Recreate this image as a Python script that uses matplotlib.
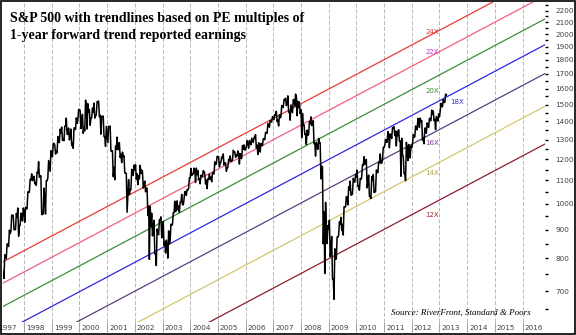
import matplotlib
matplotlib.use("Agg")
import matplotlib.pyplot as plt
from matplotlib.ticker import FixedLocator, FixedFormatter, NullFormatter
from matplotlib.transforms import offset_copy, blended_transform_factory
from matplotlib.patches import Rectangle

# S&P 500 monthly close / high / low, Jan 1997 .. Mar 2013
start_year = 1997
prior_close = 740.7
sp_close = [
    786.2, 790.8, 757.1, 801.3, 848.3, 885.1, 954.3, 899.5, 947.3, 914.6, 955.4, 970.4,
    980.3, 1049.3, 1101.8, 1111.8, 1090.8, 1133.8, 1120.7, 957.3, 1017.0, 1098.7, 1163.6, 1229.2,
    1279.6, 1238.3, 1286.4, 1335.2, 1301.8, 1372.7, 1328.7, 1320.4, 1282.7, 1362.9, 1388.9, 1469.3,
    1394.5, 1366.4, 1498.6, 1452.4, 1420.6, 1454.6, 1430.8, 1517.7, 1436.5, 1429.4, 1315.2, 1320.3,
    1366.0, 1239.9, 1160.3, 1249.5, 1255.8, 1224.4, 1211.2, 1133.6, 1040.9, 1059.8, 1139.5, 1148.1,
    1130.2, 1106.7, 1147.4, 1076.9, 1067.1, 989.8, 911.6, 916.1, 815.3, 885.8, 936.3, 879.8,
    855.7, 841.2, 848.2, 916.9, 963.6, 974.5, 990.3, 1008.0, 996.0, 1050.7, 1058.2, 1111.9,
    1131.1, 1144.9, 1126.2, 1107.3, 1120.7, 1140.8, 1101.7, 1104.2, 1114.6, 1130.2, 1173.8, 1211.9,
    1181.3, 1203.6, 1180.6, 1156.9, 1191.5, 1191.3, 1234.2, 1220.3, 1228.8, 1207.0, 1249.5, 1248.3,
    1280.1, 1280.7, 1294.9, 1310.6, 1270.1, 1270.2, 1276.7, 1303.8, 1335.9, 1377.9, 1400.6, 1418.3,
    1438.2, 1406.8, 1420.9, 1482.4, 1530.6, 1503.4, 1455.3, 1473.9, 1526.8, 1549.4, 1481.1, 1468.4,
    1378.6, 1330.6, 1322.7, 1385.6, 1400.4, 1280.0, 1267.4, 1282.8, 1166.4, 968.8, 896.2, 903.3,
    825.9, 735.1, 797.9, 872.8, 919.1, 919.3, 987.5, 1020.6, 1057.1, 1036.2, 1095.6, 1115.1,
    1073.9, 1104.5, 1169.4, 1186.7, 1089.4, 1030.7, 1101.6, 1049.3, 1141.2, 1183.3, 1180.6, 1257.6,
    1286.1, 1327.2, 1325.8, 1363.6, 1345.2, 1320.6, 1292.3, 1218.9, 1131.4, 1253.3, 1247.0, 1257.6,
    1312.4, 1365.7, 1408.5, 1397.9, 1310.3, 1362.2, 1379.3, 1406.6, 1440.7, 1412.2, 1416.2, 1426.2,
    1498.1, 1514.7, 1560.0,
]
sp_high = [
    794, 817, 814, 812, 849, 898, 955, 954, 961, 983, 963, 983,
    986, 1050, 1105, 1130, 1119, 1138, 1187, 1121, 1066, 1099, 1193, 1242,
    1280, 1272, 1316, 1356, 1368, 1373, 1419, 1363, 1357, 1363, 1420, 1470,
    1465, 1441, 1527, 1505, 1469, 1479, 1509, 1518, 1521, 1430, 1431, 1372,
    1373, 1373, 1242, 1266, 1313, 1284, 1235, 1217, 1133, 1104, 1151, 1171,
    1173, 1122, 1170, 1142, 1097, 1065, 990, 962, 935, 902, 937, 948,
    930, 862, 895, 920, 964, 1011, 1012, 1008, 1039, 1051, 1060, 1112,
    1155, 1157, 1157, 1145, 1124, 1145, 1130, 1108, 1129, 1136, 1187, 1214,
    1212, 1211, 1226, 1182, 1199, 1216, 1244, 1236, 1241, 1227, 1269, 1272,
    1294, 1295, 1307, 1312, 1326, 1283, 1280, 1304, 1339, 1389, 1406, 1428,
    1441, 1459, 1438, 1494, 1531, 1539, 1554, 1498, 1531, 1565, 1520, 1516,
    1447, 1381, 1351, 1398, 1426, 1404, 1285, 1306, 1283, 1162, 1006, 915,
    935, 875, 832, 873, 929, 946, 988, 1030, 1072, 1097, 1110, 1128,
    1147, 1109, 1174, 1212, 1199, 1124, 1117, 1127, 1148, 1185, 1226, 1259,
    1300, 1343, 1330, 1364, 1370, 1345, 1353, 1307, 1216, 1285, 1274, 1266,
    1326, 1374, 1417, 1419, 1405, 1362, 1391, 1418, 1466, 1461, 1428, 1444,
    1507, 1530, 1565,
]
sp_low = [
    744, 773, 757, 737, 799, 840, 892, 899, 900, 876, 916, 932,
    927, 980, 1048, 1099, 1085, 1078, 1114, 957, 959, 959, 1111, 1142,
    1212, 1225, 1232, 1284, 1295, 1294, 1327, 1298, 1268, 1254, 1354, 1405,
    1360, 1333, 1347, 1357, 1378, 1421, 1419, 1438, 1427, 1329, 1315, 1264,
    1284, 1240, 1117, 1103, 1247, 1208, 1183, 1134, 966, 1038, 1059, 1123,
    1106, 1081, 1131, 1066, 1050, 953, 797, 877, 815, 777, 881, 870,
    844, 818, 801, 862, 917, 969, 976, 966, 996, 1018, 1035, 1065,
    1122, 1129, 1091, 1104, 1085, 1117, 1084, 1064, 1105, 1094, 1130, 1177,
    1163, 1185, 1171, 1142, 1159, 1189, 1195, 1209, 1215, 1176, 1203, 1245,
    1262, 1255, 1272, 1284, 1256, 1223, 1235, 1268, 1299, 1334, 1367, 1396,
    1410, 1399, 1374, 1426, 1482, 1493, 1455, 1407, 1451, 1490, 1433, 1445,
    1310, 1327, 1274, 1328, 1376, 1278, 1215, 1249, 1107, 849, 752, 850,
    806, 735, 677, 798, 879, 896, 880, 987, 995, 1036, 1042, 1092,
    1073, 1057, 1115, 1175, 1067, 1030, 1022, 1047, 1050, 1135, 1179, 1194,
    1270, 1285, 1257, 1306, 1321, 1266, 1292, 1119, 1131, 1099, 1193, 1206,
    1277, 1314, 1352, 1366, 1295, 1278, 1334, 1366, 1404, 1404, 1354, 1402,
    1457, 1486, 1512,
]

# Trend forward earnings (per share) at the two ends of the trendlines
trend_years = [1997, 2017]
trend_eps = [32.4, 107.6]
pe_multiples = [12, 14, 16, 18, 20, 22, 24]
pe_colors = ["#8b1e2b", "#d6c56a", "#5b3f7d", "#2a2ae0", "#3c8c3c", "#f0607a", "#e83a3a"]
pe_label_colors = ["#a03030", "#b3a24a", "#7a3fa0", "#3a3ad8", "#3c8c3c", "#cc33cc", "#d83030"]
pe_label_years = [2012.73, 2012.73, 2012.73, 2013.63, 2012.73, 2012.73, 2012.73]
pe_label_values = [957, 1136, 1284, 1518, 1588, 1862, 2021]

y_major = [700, 800, 900, 1000, 1100, 1200, 1300, 1400, 1500, 1600, 1700, 1800,
           1900, 2000, 2100, 2200]
y_minor = [650, 750, 850, 950, 1050, 1150, 1250, 1350, 1450, 1550, 1650, 1750,
           1850, 1950, 2050, 2150, 2250]
year_labels = list(range(1997, 2017))

# Build a zig-zag path: within each month visit the extremes, then the close
times, values = [float(start_year)], [prior_close]
for i, (c, h, l) in enumerate(zip(sp_close, sp_high, sp_low)):
    t0 = start_year + i / 12.0
    first, second = (l, h) if (h - c) < (c - l) else (h, l)
    times += [t0 + 0.3 / 12, t0 + 0.65 / 12, t0 + 1.0 / 12]
    values += [first, second, c]

fig = plt.figure(figsize=(5.76, 3.35), dpi=100)
ax = fig.add_axes([3 / 576, 13 / 335, 542 / 576, 320 / 335])
ax.set_yscale("log")
ax.set_xlim(1997.24, 2016.81)
ax.set_ylim(617, 2280)

for pe, col in zip(pe_multiples, pe_colors):
    ax.plot(trend_years, [pe * e for e in trend_eps], color=col, lw=0.9, zorder=2)

ax.plot(times, values, color="black", lw=1.1, zorder=3)

for pe, col, yr, val in zip(pe_multiples, pe_label_colors, pe_label_years, pe_label_values):
    ax.text(yr, val, f"{pe}X", color=col, fontsize=5, ha="center", va="center", zorder=4)

# vertical year grid with divider ticks
ax.set_xticks(list(range(1998, 2017)))
ax.set_xticklabels([])
ax.grid(axis="x", color="#b8b8b8", linestyle=(0, (4, 2)), linewidth=0.7)
ax.tick_params(axis="x", direction="out", length=7.5, width=0.7, color="#a0a0a0")
label_trans = offset_copy(blended_transform_factory(ax.transData, ax.transAxes),
                          fig=fig, x=2, y=0, units="dots")
for yr in year_labels:
    ax.text(yr, -0.019, str(yr), transform=label_trans, ha="left", va="center",
            fontsize=5.2, color="#404040", clip_on=False)

# right-hand price axis
ax.yaxis.tick_right()
ax.yaxis.set_major_locator(FixedLocator(y_major))
ax.yaxis.set_major_formatter(FixedFormatter([str(v) for v in y_major]))
ax.yaxis.set_minor_locator(FixedLocator(y_minor))
ax.yaxis.set_minor_formatter(NullFormatter())
ax.tick_params(axis="y", which="both", direction="out", length=2.2, width=1.0,
               color="black", labelsize=5.2, labelcolor="#404040", pad=5)

for s in ax.spines.values():
    s.set_visible(False)

fig.text(10 / 576, 1 - 12 / 335,
         "S&P 500 with trendlines based on PE multiples of\n"
         "1-year forward trend reported earnings",
         ha="left", va="top", fontsize=10, fontweight="bold",
         family="Liberation Serif", linespacing=1.4)

fig.text(531 / 576, 1 - 313 / 335, "Source: RiverFront, Standard & Poors",
         ha="right", va="center", fontsize=6.5, style="italic",
         family="Liberation Serif")

fig.patches.append(Rectangle((0.8 / 576, 0.8 / 335), 1 - 1.6 / 576, 1 - 1.6 / 335,
                             transform=fig.transFigure, fill=False,
                             edgecolor="black", linewidth=1.2))

fig.savefig("out.png", dpi=100)
